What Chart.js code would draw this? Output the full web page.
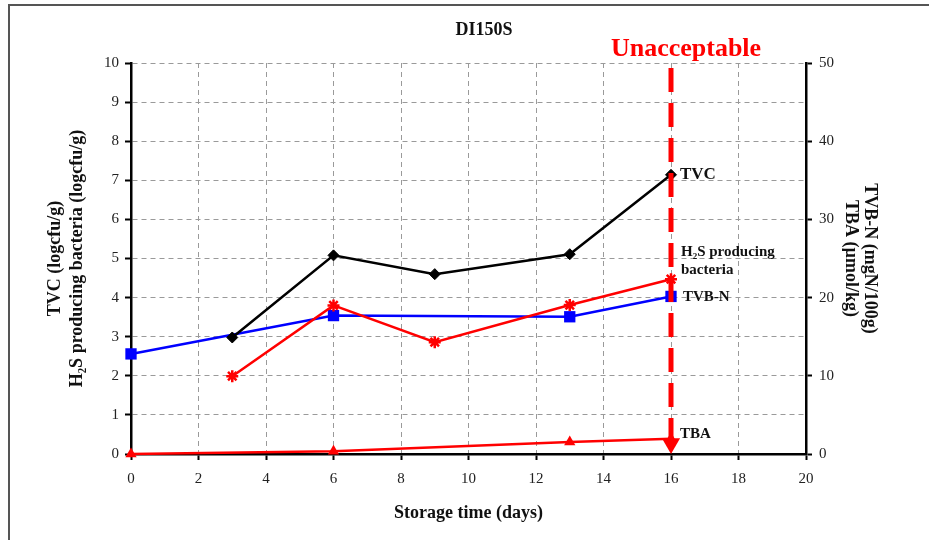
<!DOCTYPE html>
<html><head><meta charset="utf-8">
<script src="https://cdn.jsdelivr.net/npm/chart.js@4"></script>
<style>html,body{margin:0;padding:0;background:#fff}#wrap{width:929px;height:540px}</style>
</head><body><div id="wrap"><canvas id="c" width="929" height="540"></canvas></div>
<script>
// ---- data ----
const chartTitle = 'DI150S';
const xTicks = [0,2,4,6,8,10,12,14,16,18,20];
const tvcDays = [3,6,9,13,16];
const tvcValues = [2.98,5.08,4.6,5.11,7.14];
const h2sDays = [3,6,9,13,16];
const h2sValues = [1.99,3.8,2.86,3.81,4.47];
const tvbnDays = [0,6,13,16];
const tvbnValues = [12.8,17.7,17.55,20.15];
const tbaDays = [0,6,13,16];
const tbaValues = [0,0.35,1.55,1.95];
const cutoffDay = 16;
const cutoffSpan = [9.87,0.27];
const cutoffText = 'Unacceptable';
const seriesNames = ['TVC',['H₂S producing','bacteria'],'TVB-N','TBA'];

const pts = (xs, ys) => xs.map((x,i)=>({x, y: ys[i]}));
const serif = '"Liberation Serif", "DejaVu Serif", serif';

const annot = {
  id:'annot',
  beforeDraw(chart){
    const ctx = chart.ctx;
    ctx.save();
    ctx.fillStyle='#fff'; ctx.fillRect(0,0,chart.width,chart.height);
    ctx.strokeStyle='#555'; ctx.lineWidth=2;
    ctx.beginPath(); ctx.moveTo(9,540); ctx.lineTo(9,5); ctx.lineTo(929,5); ctx.stroke();
    ctx.restore();
  },
  afterDraw(chart){
    const ctx = chart.ctx, xs = chart.scales.x, y = chart.scales.y, y2 = chart.scales.y2;
    ctx.save();
    ctx.textBaseline='middle'; ctx.textAlign='center';
    ctx.fillStyle='#111'; ctx.font='bold 18px '+serif;
    ctx.fillText(chartTitle, 484, 30);
    ctx.fillStyle='#ff0000'; ctx.font='bold 26px '+serif;
    ctx.fillText(cutoffText, xs.getPixelForValue(cutoffDay)+15, 49);
    ctx.textAlign='left'; ctx.fillStyle='#111';
    const lx = xs.getPixelForValue(cutoffDay)+9;
    ctx.font='bold 17px '+serif;
    ctx.fillText(seriesNames[0], lx, y.getPixelForValue(tvcValues[tvcValues.length-1]));
    ctx.font='bold 15px '+serif;
    const hy = y.getPixelForValue(h2sValues[h2sValues.length-1]);
    ctx.fillText(seriesNames[1][0], lx+1, hy-27);
    ctx.fillText(seriesNames[1][1], lx+1, hy-9);
    ctx.fillText(seriesNames[2], lx+3, y2.getPixelForValue(tvbnValues[tvbnValues.length-1])+1);
    ctx.fillText(seriesNames[3], lx, y2.getPixelForValue(tbaValues[tbaValues.length-1])-5);
    ctx.restore();
  }
};

const gridCommon = {color:'#9a9a9a', lineWidth:1, tickColor:'#000', tickLength:6, tickWidth:2, tickBorderDash:[]};
const titleFont = {family:serif,size:18,weight:'bold',lineHeight:1.2};

new Chart(document.getElementById('c'), {
  type:'line',
  data:{datasets:[
    {label:'cutoff', data: cutoffSpan.map(v=>({x:cutoffDay,y:v})), yAxisID:'y', borderColor:'#ff0000', borderWidth:5, borderDash:[24,11],
     pointStyle:'triangle', rotation:180, pointRadius:[0,10.5], pointBorderWidth:0, pointBackgroundColor:'#ff0000', order:0, clip:false},
    {label:'TVC', data: pts(tvcDays,tvcValues), yAxisID:'y', borderColor:'#000', borderWidth:2.5, pointStyle:'rectRot', pointRadius:5.5,
     pointBackgroundColor:'#000', pointBorderColor:'#000', pointBorderWidth:1, order:2, clip:false},
    {label:'H2S', data: pts(h2sDays,h2sValues), yAxisID:'y', borderColor:'#ff0000', borderWidth:2.5, pointStyle:'star', pointRadius:6,
     pointBorderColor:'#ff0000', pointBorderWidth:2.5, order:1, clip:false},
    {label:'TVB-N', data: pts(tvbnDays,tvbnValues), yAxisID:'y2', borderColor:'#0000ff', borderWidth:2.5, pointStyle:'rect', pointRadius:8,
     pointBackgroundColor:'#0000ff', pointBorderColor:'#0000ff', pointBorderWidth:0, order:3, clip:false},
    {label:'TBA', data: pts(tbaDays,tbaValues), yAxisID:'y2', borderColor:'#ff0000', borderWidth:2.5, pointStyle:'triangle', pointRadius:6.5,
     pointBackgroundColor:'#ff0000', pointBorderColor:'#ff0000', pointBorderWidth:0, order:4, clip:false}
  ]},
  options:{
    responsive:false, animation:false, devicePixelRatio:1,
    layout:{padding:{top:63,left:0,right:0,bottom:0}},
    plugins:{legend:{display:false}, tooltip:{enabled:false}},
    scales:{
      x:{type:'linear', min:0, max:20, afterBuildTicks:s=>{s.ticks=xTicks.map(v=>({value:v}));},
         afterFit:s=>{s.height=86;},
         grid:gridCommon, border:{display:true,color:'#000',width:2.5,dash:[5,4]},
         ticks:{font:{family:serif,size:15}, color:'#222', padding:10, maxRotation:0},
         title:{display:true, text:'Storage time (days)', font:titleFont, color:'#111', padding:{top:0,bottom:16}}},
      y:{position:'left', min:0, max:10, ticks:{stepSize:1, font:{family:serif,size:15}, color:'#222', padding:6},
         afterFit:s=>{s.width=131;},
         grid:gridCommon, border:{display:true,color:'#000',width:2.5,dash:[5,4]},
         title:{display:true, text:['TVC (logcfu/g)','H₂S producing bacteria (logcfu/g)'], font:titleFont, color:'#111', padding:{top:45,bottom:0}}},
      y2:{position:'right', min:0, max:50, ticks:{stepSize:10, font:{family:serif,size:15}, color:'#222', padding:7},
         afterFit:s=>{s.width=123;},
         grid:Object.assign({}, gridCommon, {drawOnChartArea:false}), border:{display:true,color:'#000',width:2.5},
         title:{display:true, text:['TVB-N (mgN/100g)','TBA (µmol/kg)'], font:Object.assign({}, titleFont, {lineHeight:1.05}), color:'#111', padding:{top:50,bottom:0}}}
    }
  },
  plugins:[annot]
});
</script></body></html>
